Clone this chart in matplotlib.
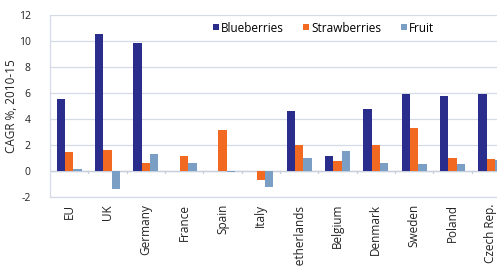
import matplotlib
matplotlib.use("Agg")
import matplotlib.pyplot as plt
import numpy as np
from matplotlib.lines import Line2D

plt.rcParams['font.family'] = ['Open Sans', 'DejaVu Sans']

categories = ["EU", "UK", "Germany", "France", "Spain", "Italy", "Netherlands",
              "Belgium", "Denmark", "Sweden", "Poland", "Czech Rep."]
blueberries = [5.55, 10.55, 9.9, 0.0, 0.0, 0.0, 4.63, 1.19, 4.79, 5.95, 5.77, 5.9]
strawberries = [1.45, 1.65, 0.6, 1.19, 3.14, -0.67, 2.04, 0.75, 1.98, 3.35, 1.03, 0.96]
fruit = [0.15, -1.39, 1.29, 0.6, -0.1, -1.24, 1.03, 1.55, 0.65, 0.52, 0.52, 0.83]
series_names = ["Blueberries", "Strawberries", "Fruit"]
colors = ["#2b2d8c", "#f26a21", "#7a9ec4"]
yticks = [-2, 0, 2, 4, 6, 8, 10, 12]

W, H = 497, 266
fig = plt.figure(figsize=(W/100, H/100), dpi=100)
left, right = 50, 510
top, bottom = 15.3, 197
ax = fig.add_axes([left/W, 1 - bottom/H, (right-left)/W, (bottom-top)/H])

x = np.arange(len(categories))
bw = 0.22
for i, (vals, c) in enumerate(zip([blueberries, strawberries, fruit], colors)):
    ax.bar(x + (i-1)*bw, vals, width=bw, color=c, zorder=3, linewidth=0)

ax.set_xlim(-0.5, len(categories)-0.5)
ax.set_ylim(-2, 12)
ax.set_yticks(yticks)
ax.set_yticklabels([str(v) for v in yticks], fontsize=7.5, color="#222222")
ax.tick_params(axis='y', length=0, pad=14)
ax.grid(axis='y', color="#d5dbe6", linewidth=0.9, zorder=0)
for s in ["top", "right"]:
    ax.spines[s].set_visible(False)
for s in ["left", "bottom"]:
    ax.spines[s].set_color("#d5dbe6")
    ax.spines[s].set_linewidth(0.9)

ax.axhline(0, color="#c8cfdc", linewidth=1.0, zorder=2)
# ticks at category boundaries on the zero line
for b in np.arange(0.5, len(categories)-0.5, 1.0):
    ax.plot([b, b], [0, -0.12], color="#c8cfdc", linewidth=0.9, zorder=2, clip_on=False)

ax.set_xticks(x)
ax.set_xticklabels(categories, rotation=90, fontsize=8.5, color="#222222")
ax.tick_params(axis='x', length=0, pad=5)

ax.set_ylabel("CAGR %, 2010-15", fontsize=8.5, color="#222222")
ax.yaxis.set_label_coords((18 - left)/(right - left), 0.5)

handles = [Line2D([0], [0], marker='s', linestyle='none', markersize=4.5,
                  markerfacecolor=c, markeredgewidth=0) for c in colors]
fig.legend(handles, series_names, loc='center left', bbox_to_anchor=(205/W, 1 - 28/H),
           ncol=3, frameon=False, fontsize=8.5, handletextpad=0.05, columnspacing=1.5,
           borderpad=0, handlelength=0.8)

fig.savefig("out.png", dpi=100)
